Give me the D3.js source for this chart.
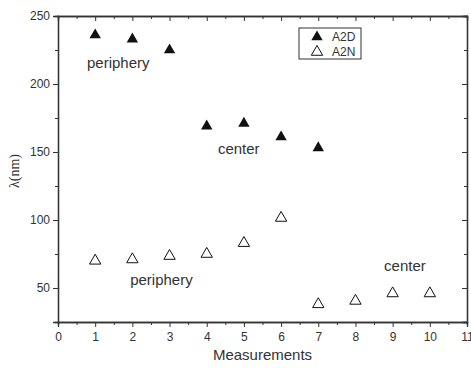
<!DOCTYPE html>
<html>
<head>
<meta charset="utf-8">
<script src="https://cdn.jsdelivr.net/npm/d3@7"></script>
<style>
  body { margin: 0; background: #fff; }
  text { font-family: "Liberation Sans", Arial, sans-serif; fill: #333; }
</style>
</head>
<body>
<svg id="chart"></svg>
<script>
// data
const measurements = [1, 2, 3, 4, 5, 6, 7, 8, 9, 10];
const a2d = [236, 233, 225, 169, 171, 161, 153];
const a2n = [70, 71, 73.5, 75, 83, 101.5, 38, 40.5, 46, 46];
const xTicks = [0, 1, 2, 3, 4, 5, 6, 7, 8, 9, 10, 11];
const yTicks = [50, 100, 150, 200, 250];

const width = 471, height = 368;
const margin = { top: 16, right: 4, bottom: 46, left: 58 };

const svg = d3.select('#chart')
  .attr('width', width)
  .attr('height', height);

const x = d3.scaleLinear().domain([0, 11]).range([margin.left, width - margin.right]);
const y = d3.scaleLinear().domain([25, 250]).range([height - margin.bottom, margin.top]);

const axisColor = '#333';
const minorX = d3.range(0.5, 11, 1);
const minorY = [25, 75, 125, 175, 225];

// bottom axis (outward ticks)
svg.append('g')
  .attr('transform', 'translate(0,' + y(25) + ')')
  .call(d3.axisBottom(x).tickValues(xTicks).tickSize(5).tickPadding(5).tickFormat(d3.format('d')));
svg.append('g')
  .attr('transform', 'translate(0,' + y(25) + ')')
  .call(d3.axisBottom(x).tickValues(minorX).tickSize(3).tickFormat(''));

// left axis (outward ticks)
svg.append('g')
  .attr('transform', 'translate(' + x(0) + ',0)')
  .call(d3.axisLeft(y).tickValues(yTicks).tickSize(5).tickPadding(3));
svg.append('g')
  .attr('transform', 'translate(' + x(0) + ',0)')
  .call(d3.axisLeft(y).tickValues(minorY).tickSize(3).tickFormat(''));

// top and right axes (inward ticks, no labels)
svg.append('g')
  .attr('transform', 'translate(0,' + y(250) + ')')
  .call(d3.axisBottom(x).tickValues(xTicks).tickSize(5).tickFormat(''));
svg.append('g')
  .attr('transform', 'translate(0,' + y(250) + ')')
  .call(d3.axisBottom(x).tickValues(minorX).tickSize(3).tickFormat(''));
svg.append('g')
  .attr('transform', 'translate(' + x(11) + ',0)')
  .call(d3.axisLeft(y).tickValues(yTicks).tickSize(5).tickFormat(''));
svg.append('g')
  .attr('transform', 'translate(' + x(11) + ',0)')
  .call(d3.axisLeft(y).tickValues(minorY).tickSize(3).tickFormat(''));

svg.selectAll('.domain').attr('stroke', axisColor).attr('stroke-width', 1.3);
svg.selectAll('.tick line').attr('stroke', axisColor).attr('stroke-width', 1);
svg.selectAll('.tick text').attr('font-size', 12).attr('fill', '#333')
  .attr('font-family', '"Liberation Sans", Arial, sans-serif');

// axis titles
svg.append('text')
  .attr('x', (x(0) + x(11)) / 2)
  .attr('y', 360)
  .attr('text-anchor', 'middle')
  .attr('font-size', 15)
  .text('Measurements');

svg.append('text')
  .attr('transform', 'translate(19,' + y(136) + ') rotate(-90)')
  .attr('text-anchor', 'middle')
  .style('font-family', '"Liberation Serif", "Times New Roman", serif')
  .attr('font-size', 14)
  .text('λ(nm)');

// markers
const tri = d3.symbol().type(d3.symbolTriangle).size(56);

svg.append('g').selectAll('path')
  .data(a2d)
  .join('path')
  .attr('transform', (d, i) => 'translate(' + x(measurements[i]) + ',' + y(d) + ')')
  .attr('d', tri)
  .attr('fill', '#111');

svg.append('g').selectAll('path')
  .data(a2n)
  .join('path')
  .attr('transform', (d, i) => 'translate(' + x(measurements[i]) + ',' + y(d) + ')')
  .attr('d', tri)
  .attr('fill', 'none')
  .attr('stroke', '#111')
  .attr('stroke-width', 1);

// annotations
const notes = [
  { t: 'periphery', mx: 0.78, v: 212 },
  { t: 'center', mx: 4.30, v: 148.5 },
  { t: 'periphery', mx: 1.94, v: 52.5 },
  { t: 'center', mx: 8.77, v: 62.5 }
];
svg.append('g').selectAll('text')
  .data(notes)
  .join('text')
  .attr('x', d => x(d.mx))
  .attr('y', d => y(d.v))
  .attr('font-size', 15)
  .text(d => d.t);

// legend
const lg = svg.append('g').attr('transform', 'translate(299,28)');
lg.append('rect')
  .attr('width', 62).attr('height', 31)
  .attr('fill', '#fff').attr('stroke', '#333').attr('stroke-width', 1);
lg.append('path').attr('transform', 'translate(18,9)').attr('d', tri).attr('fill', '#111');
lg.append('path').attr('transform', 'translate(18,24)').attr('d', tri)
  .attr('fill', 'none').attr('stroke', '#111');
lg.append('text').attr('x', 33).attr('y', 13).attr('font-size', 12).text('A2D');
lg.append('text').attr('x', 33).attr('y', 28).attr('font-size', 12).text('A2N');
</script>
</body>
</html>
